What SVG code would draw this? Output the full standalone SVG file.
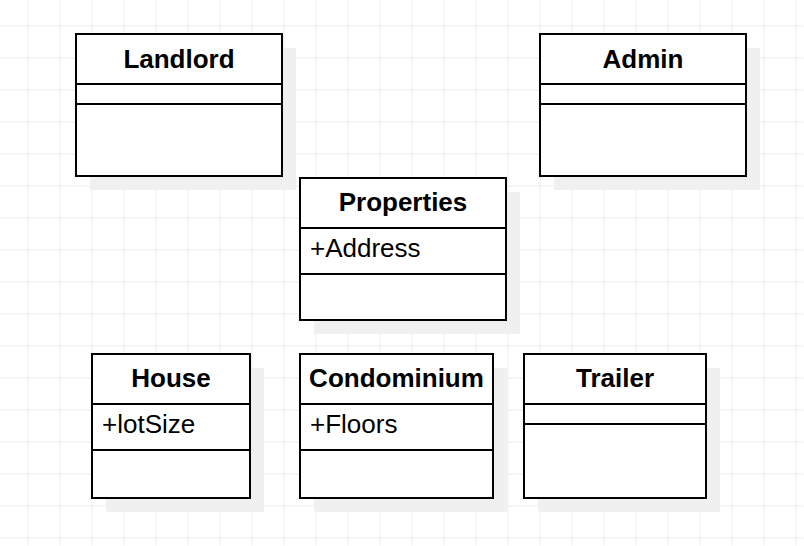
<svg xmlns="http://www.w3.org/2000/svg" width="804" height="546" viewBox="0 0 804 546">
<defs>
<pattern id="grid" x="28" y="26" width="32" height="32" patternUnits="userSpaceOnUse">
<path d="M0.5 0 V32 M0 0.5 H32" fill="none" stroke="#ececec" stroke-width="1"/>
</pattern>
</defs>
<style>
.box{fill:#ffffff;stroke:#000000;stroke-width:2}
.sh{fill:#f0f0f0}
.ln{stroke:#000000;stroke-width:2}
.t{font-family:"Liberation Sans",Arial,sans-serif;font-size:26px;font-weight:bold;text-anchor:middle;fill:#000}
.a{font-family:"Liberation Sans",Arial,sans-serif;font-size:26px;fill:#000}
</style>
<rect width="804" height="546" fill="#ffffff"/>
<rect x="0" y="0" width="804" height="546" fill="url(#grid)" transform="translate(-0.5,-0.5)"/>
<g id="connectors"></g>
<g id="landlord">
<rect class="sh" x="90" y="48" width="206" height="142"/>
<rect class="box" x="76" y="34" width="206" height="142"/>
<line class="ln" x1="76" y1="84" x2="282" y2="84"/>
<line class="ln" x1="76" y1="104" x2="282" y2="104"/>
<text class="t" x="179" y="68">Landlord</text>
</g>
<g id="admin">
<rect class="sh" x="554" y="48" width="206" height="142"/>
<rect class="box" x="540" y="34" width="206" height="142"/>
<line class="ln" x1="540" y1="84" x2="746" y2="84"/>
<line class="ln" x1="540" y1="104" x2="746" y2="104"/>
<text class="t" x="643" y="68">Admin</text>
</g>
<g id="properties">
<rect class="sh" x="314" y="192" width="206" height="142"/>
<rect class="box" x="300" y="178" width="206" height="142"/>
<line class="ln" x1="300" y1="228" x2="506" y2="228"/>
<line class="ln" x1="300" y1="274" x2="506" y2="274"/>
<text class="t" x="403" y="211">Properties</text>
<text class="a" x="310" y="257">+Address</text>
</g>
<g id="house">
<rect class="sh" x="106" y="368" width="158" height="144"/>
<rect class="box" x="92" y="354" width="158" height="144"/>
<line class="ln" x1="92" y1="404" x2="250" y2="404"/>
<line class="ln" x1="92" y1="450" x2="250" y2="450"/>
<text class="t" x="171" y="387">House</text>
<text class="a" x="102" y="433">+lotSize</text>
</g>
<g id="condominium">
<rect class="sh" x="314" y="368" width="193" height="144"/>
<rect class="box" x="300" y="354" width="193" height="144"/>
<line class="ln" x1="300" y1="404" x2="493" y2="404"/>
<line class="ln" x1="300" y1="450" x2="493" y2="450"/>
<text class="t" x="396.5" y="387">Condominium</text>
<text class="a" x="310" y="433">+Floors</text>
</g>
<g id="trailer">
<rect class="sh" x="538" y="368" width="182" height="144"/>
<rect class="box" x="524" y="354" width="182" height="144"/>
<line class="ln" x1="524" y1="404" x2="706" y2="404"/>
<line class="ln" x1="524" y1="424" x2="706" y2="424"/>
<text class="t" x="615" y="387">Trailer</text>
</g>
</svg>
